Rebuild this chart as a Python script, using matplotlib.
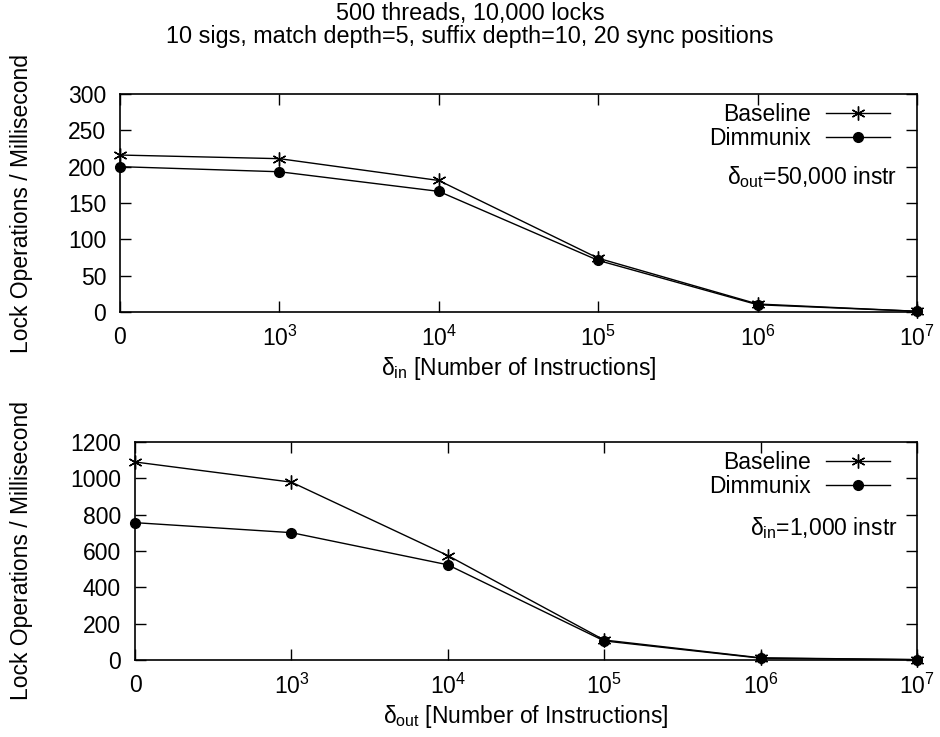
import matplotlib
matplotlib.use('Agg')
import matplotlib.pyplot as plt

plt.rcParams['font.family'] = ['Liberation Sans', 'DejaVu Sans']
plt.rcParams['mathtext.fontset'] = 'custom'
plt.rcParams['mathtext.rm'] = 'Liberation Sans'
plt.rcParams['mathtext.it'] = 'Liberation Sans'

# data
xlabels = ['0', '$10^3$', '$10^4$', '$10^5$', '$10^6$', '$10^7$']
top_baseline = [216, 211, 181, 74, 11, 1]
top_dimmunix = [200, 193, 166, 71, 10, 1]
bot_baseline = [1090, 979, 575, 110, 12, 2]
bot_dimmunix = [756, 701, 524, 105, 10, 2]

FS = 16.5

fig = plt.figure(figsize=(9.4, 7.37), dpi=100)
fig.text(0.5, 0.997, '500 threads, 10,000 locks\n10 sigs, match depth=5, suffix depth=10, 20 sync positions',
         ha='center', va='top', fontsize=16.8, linespacing=1.0)

ax1 = fig.add_axes([120/940, 1-312/737, 797/940, 218/737])
ax2 = fig.add_axes([135/940, 1-660/737, 782/940, 218/737])


def draw(ax, base, dim, ymax, ystep, xlab, note, ny):
    xs = list(range(len(xlabels)))
    ax.plot(xs, base, color='black', lw=1, marker=(6, 2, 0), ms=10, mew=1, label='Baseline', clip_on=False)
    ax.plot(xs, dim, color='black', lw=1, marker='o', ms=7, label='Dimmunix', clip_on=False)
    ax.set_xlim(0, len(xlabels)-1)
    ax.set_ylim(0, ymax)
    ax.set_xticks(xs)
    ax.set_xticklabels(xlabels)
    ax.set_yticks(range(0, ymax+1, ystep))
    ax.tick_params(direction='in', length=8, width=1, labelsize=FS, top=True, right=True, pad=10)
    for s in ax.spines.values():
        s.set_linewidth(1.2)
    ax.set_xlabel(xlab, fontsize=FS, labelpad=3)
    ax.set_ylabel('Lock Operations / Millisecond', fontsize=FS)
    ax.legend(loc='upper right', bbox_to_anchor=(1 - 18/797, 1), frameon=False, markerfirst=False,
              fontsize=FS, handlelength=2.8, handletextpad=0.65, borderaxespad=0.3, borderpad=0.1,
              labelspacing=0.05)
    ax.text(0.975, ny, note, transform=ax.transAxes, ha='right', va='center', fontsize=FS)


draw(ax1, top_baseline, top_dimmunix, 300, 50, r'$\delta_{\mathrm{in}}$ [Number of Instructions]',
     r'$\delta_{\mathrm{out}}$=50,000 instr', 0.62)
draw(ax2, bot_baseline, bot_dimmunix, 1200, 200, r'$\delta_{\mathrm{out}}$ [Number of Instructions]',
     r'$\delta_{\mathrm{in}}$=1,000 instr', 0.605)
ax1.yaxis.set_label_coords(-0.109, 0.5)
ax2.yaxis.set_label_coords(-0.130, 0.5)

fig.savefig('out.png', dpi=100)
